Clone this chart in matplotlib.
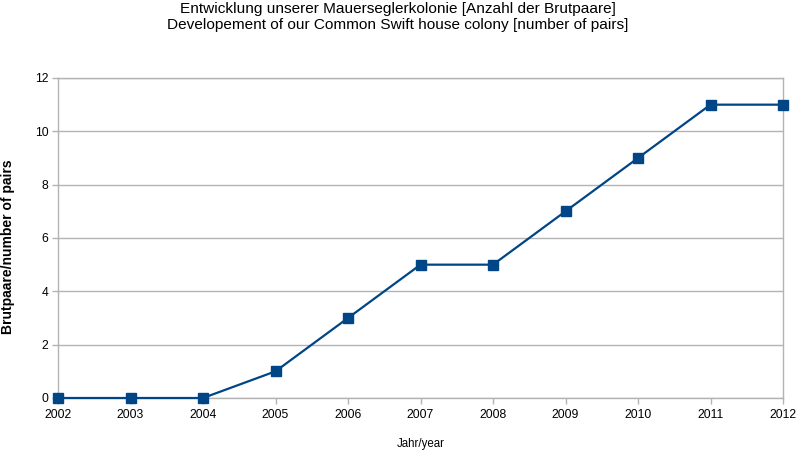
# plot.py
#   swift colony development chart

# imports
import matplotlib
matplotlib.use("Agg")
import matplotlib.pyplot as plt

# data
years = [2002, 2003, 2004, 2005, 2006, 2007, 2008, 2009, 2010, 2011, 2012]
pairs = [0, 0, 0, 1, 3, 5, 5, 7, 9, 11, 11]
yticks = [0, 2, 4, 6, 8, 10, 12]

title = ("Entwicklung unserer Mauerseglerkolonie [Anzahl der Brutpaare]\n"
         "Developement of our Common Swift house colony [number of pairs]")
xlab = "Jahr/year"
ylab = "Brutpaare/number of pairs"

plt.rcParams['font.family'] = ['Liberation Sans', 'DejaVu Sans']

fig = plt.figure(figsize=(7.96, 4.51), dpi=100)
ax = fig.add_axes([58 / 796, 1 - 398 / 451, 725 / 796, 320 / 451])

ax.plot(years, pairs, color='#004586', lw=1.6, marker='s', ms=7.5, zorder=3, clip_on=False)

ax.set_xlim(years[0], years[-1])
ax.set_ylim(yticks[0], yticks[-1])
ax.set_xticks(years)
ax.set_yticks(yticks)
ax.grid(axis='y', color='#b3b3b3', lw=1)
ax.set_axisbelow(True)
for s in ax.spines.values():
    s.set_color('#b3b3b3')
    s.set_linewidth(1)
ax.tick_params(colors='#b3b3b3', labelcolor='black', labelsize=8.7, length=4, width=1)
ax.tick_params(axis='x', pad=4)
ax.tick_params(axis='y', pad=3)

fig.text(0.5, 1 - 17 / 451, title, ha='center', va='center', fontsize=11.1, linespacing=1.1)
fig.text((58 + 783) / 2 / 796, 1 - 444 / 451, xlab, ha='center', va='center', fontsize=8.3)
fig.text(8 / 796, 1 - 247 / 451, ylab, ha='center', va='center', rotation=90,
         fontsize=10, fontweight='bold')

fig.savefig("out.png", dpi=100)
